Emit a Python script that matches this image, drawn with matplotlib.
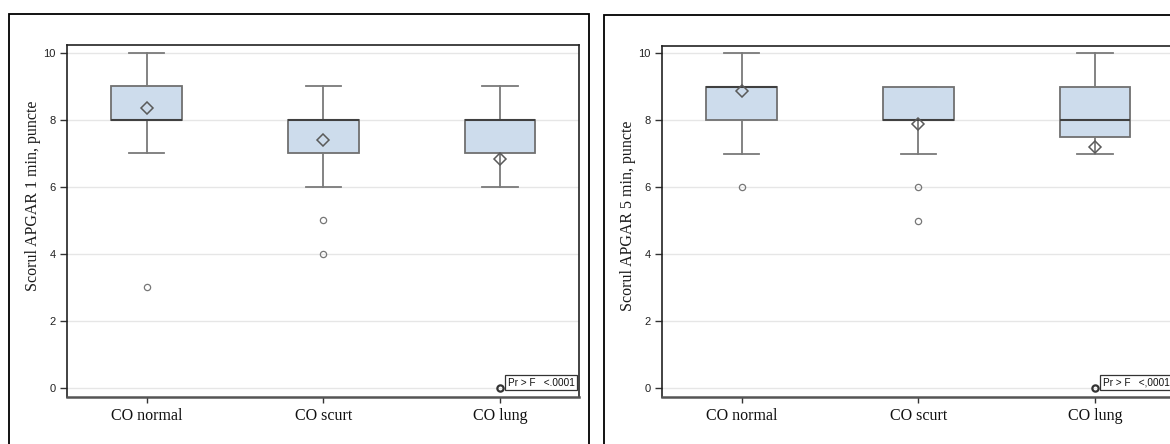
import matplotlib
matplotlib.use("Agg")
import matplotlib.pyplot as plt
from matplotlib.patches import Rectangle
from matplotlib.transforms import ScaledTranslation

# ---------------- data ----------------
groups = ["CO normal", "CO scurt", "CO lung"]

# APGAR 1 min
a1_whislo = [7, 6, 6]
a1_q1 = [8, 7, 7]
a1_med = [8, 8, 8]
a1_q3 = [9, 8, 8]
a1_whishi = [10, 9, 9]
a1_mean = [8.35, 7.41, 6.82]
a1_fliers = [[3], [5, 4], [0]]

# APGAR 5 min
a5_whislo = [7, 7, 7]
a5_q1 = [8, 8, 7.5]
a5_med = [9, 8, 8]
a5_q3 = [9, 9, 9]
a5_whishi = [10, 9, 10]
a5_mean = [8.88, 7.90, 7.20]
a5_fliers = [[6], [6, 5], [0]]

yticks = [0, 2, 4, 6, 8, 10]
ylabels = ["Scorul APGAR 1 min, puncte", "Scorul APGAR 5 min, puncte"]
pvalue_texts = ["Pr > F   <.0001", "Pr > F   <,0001"]

# ---------------- layout ----------------
W, H = 1170, 444
fig = plt.figure(figsize=(W / 100, H / 100), dpi=100)
fig.patch.set_facecolor("white")

def fx(px):
    return px / W

def fy(py):
    return 1 - py / H

BOX_FACE = "#cddcec"
BOX_EDGE = "#707070"
MED_COL = "#404040"
WH_COL = "#7a7a7a"
GRID = "#e6e6e6"

panels = [
    dict(frame_x=9.3, frame_y=14.3, ax_x=67.3, ax_top=45.3, lab=(33.3, 195.7),
         data=(a1_whislo, a1_q1, a1_med, a1_q3, a1_whishi, a1_mean, a1_fliers),
         ylabel=ylabels[0], ptxt=pvalue_texts[0], offs=[8, -3.5, -6]),
    dict(frame_x=604.3, frame_y=15.0, ax_x=662.3, ax_top=46.0, lab=(628.3, 216.0),
         data=(a5_whislo, a5_q1, a5_med, a5_q3, a5_whishi, a5_mean, a5_fliers),
         ylabel=ylabels[1], ptxt=pvalue_texts[1], offs=[7, -2, 0]),
]

AX_W = 512
AX_BOTTOM = 396.7
PFS = 7.2
PPAD = 0.25
pad_px = PPAD * PFS * 100 / 72

for p in panels:
    # outer frame
    fig.patches.append(Rectangle((fx(p["frame_x"]), fy(470)), fx(580), fy(p["frame_y"]) - fy(470),
                                 transform=fig.transFigure, fill=False,
                                 edgecolor="black", linewidth=1.3, zorder=0))
    ax_h = AX_BOTTOM - p["ax_top"]
    ax = fig.add_axes([fx(p["ax_x"]), fy(AX_BOTTOM), fx(AX_W), ax_h / H])
    whislo, q1, med, q3, whishi, mean, fliers = p["data"]
    stats = []
    for i in range(len(groups)):
        stats.append(dict(whislo=whislo[i], q1=q1[i], med=med[i], q3=q3[i],
                          whishi=whishi[i], mean=mean[i], fliers=fliers[i], label=groups[i]))
    res = ax.bxp(stats, positions=range(len(groups)), widths=0.40, patch_artist=True,
                 showmeans=True, showfliers=True,
                 boxprops=dict(facecolor=BOX_FACE, edgecolor=BOX_EDGE, linewidth=1.3),
                 medianprops=dict(color=MED_COL, linewidth=1.5),
                 whiskerprops=dict(color=WH_COL, linewidth=1.3),
                 capprops=dict(color=WH_COL, linewidth=1.3),
                 capwidths=0.2,
                 meanprops=dict(marker="D", markersize=6.5, markerfacecolor="none",
                                markeredgecolor="#5a5a5a", markeredgewidth=1.1),
                 flierprops=dict(marker="o", markersize=4.5, markerfacecolor="none",
                                 markeredgecolor="#777777", markeredgewidth=0.9))
    res["fliers"][2].set_markeredgecolor("#333333")
    res["fliers"][2].set_markeredgewidth(1.6)
    for art in res["means"]:
        art.set_zorder(5)

    ax.set_xlim(-0.45, 2.45)
    ax.set_ylim(-0.26, 10.22)
    ax.set_yticks(yticks)
    ax.set_yticklabels([str(t) for t in yticks], fontsize=8,
                       family=["Liberation Sans", "DejaVu Sans"], color="#222222")
    ax.set_xticks(range(len(groups)))
    ax.set_xticklabels(groups, fontsize=11.5, family=["Liberation Serif", "DejaVu Serif"],
                       color="#111111")
    for lbl, dx in zip(ax.get_xticklabels(), p["offs"]):
        lbl.set_transform(lbl.get_transform() + ScaledTranslation(dx / 100, 0, fig.dpi_scale_trans))
    ax.tick_params(axis="y", length=5, width=1, color="#333333", pad=3.4)
    ax.tick_params(axis="x", length=4.5, width=1, color="#333333", pad=3.5)
    ax.yaxis.grid(True, color=GRID, linewidth=1)
    ax.set_axisbelow(True)
    for s in ["left", "top", "right"]:
        ax.spines[s].set_color("#222222")
        ax.spines[s].set_linewidth(1.2)
    ax.spines["bottom"].set_color("#555555")
    ax.spines["bottom"].set_linewidth(1.8)

    tx = 1 - (2.0 + pad_px) / AX_W
    ty = (AX_BOTTOM - (390 - pad_px)) / ax_h
    ax.text(tx, ty, p["ptxt"], transform=ax.transAxes, ha="right", va="bottom",
            fontsize=PFS, family=["Liberation Sans", "DejaVu Sans"], color="#111111",
            bbox=dict(boxstyle="square,pad=%g" % PPAD, facecolor="white", edgecolor="#333333",
                      linewidth=0.9),
            zorder=6)

    fig.text(fx(p["lab"][0]), fy(p["lab"][1]), p["ylabel"], rotation=90, ha="center", va="center",
             fontsize=11.5, family=["Liberation Serif", "DejaVu Serif"], color="#1a1a1a")

fig.savefig("out.png", dpi=100, facecolor="white")
